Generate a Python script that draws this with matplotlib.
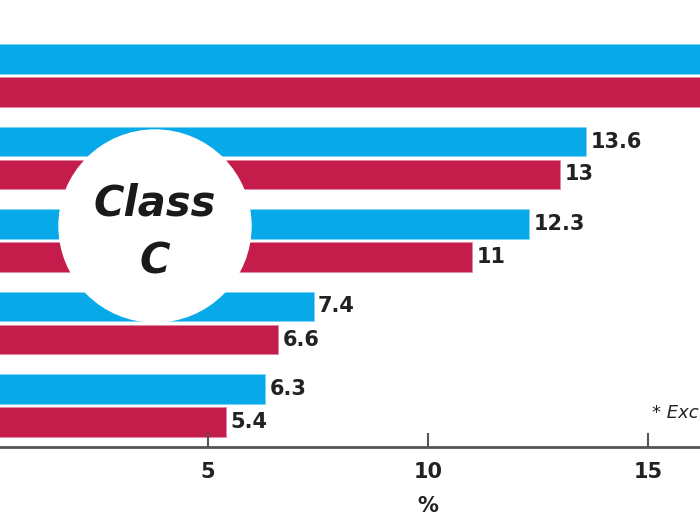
import matplotlib.pyplot as plt
from matplotlib.patches import Ellipse
import numpy as np

# data
blue_vals = [18.9, 13.6, 12.3, 7.4, 6.3]
red_vals = [17.5, 13.0, 11.0, 6.6, 5.4]
blue_labels = ['', '13.6', '12.3', '7.4', '6.3']
red_labels = ['', '13', '11', '6.6', '5.4']
ticks = [5, 10, 15]

BLUE = '#07a9e9'
RED = '#c41d4b'
FONT = 'DejaVu Sans'

fig = plt.figure(figsize=(7, 5.25), dpi=100)
ax = fig.add_axes([0, (525 - 447) / 525, 1, 447 / 525])

y = np.arange(len(blue_vals))
h = 0.36
ax.barh(y - 0.2, blue_vals, height=h, color=BLUE, edgecolor='#7fd3f4', linewidth=0.6)
ax.barh(y + 0.2, red_vals, height=h, color=RED, edgecolor='#e08aa2', linewidth=0.6)

for i in range(len(y)):
    ax.text(blue_vals[i] + 0.1, y[i] - 0.2, blue_labels[i], va='center', ha='left',
            fontsize=15, fontweight='bold', family=FONT, color='#222222')
    ax.text(red_vals[i] + 0.1, y[i] + 0.2, red_labels[i], va='center', ha='left',
            fontsize=15, fontweight='bold', family=FONT, color='#222222')

xmin, xmax = 12 / 44, 712 / 44
ax.set_xlim(xmin, xmax)
ax.set_ylim(4 + 41.5 / 82.5, -75.5 / 82.5)

for s in ['top', 'right', 'left']:
    ax.spines[s].set_visible(False)
ax.spines['bottom'].set_color('#555555')
ax.spines['bottom'].set_linewidth(2)
ax.set_yticks([])
ax.set_xticks(ticks)
ax.set_xticklabels([str(t) for t in ticks], fontsize=15, fontweight='bold', family=FONT, color='#222222')
ax.tick_params(axis='x', direction='in', length=10, width=1.5, color='#555555', pad=11)
ax.set_xlabel('%', fontsize=15, fontweight='bold', family=FONT, color='#222222')
ax.xaxis.set_label_coords((10 - xmin) / (xmax - xmin), -0.11)

# badge
fig.patches.append(Ellipse((155 / 700, 1 - 226 / 525), 192 / 700, 192 / 525,
                           transform=fig.transFigure, facecolor='white', edgecolor='white', zorder=5))
fig.text(155 / 700, 1 - 204 / 525, 'Class', ha='center', va='center', fontsize=30,
         fontweight='bold', style='italic', color='#1a1a1a', zorder=6)
fig.text(155 / 700, 1 - 262 / 525, 'C', ha='center', va='center', fontsize=30,
         fontweight='bold', style='italic', color='#1a1a1a', zorder=6)

fig.text(652 / 700, 1 - 413 / 525, '* Exc', ha='left', va='center', fontsize=13,
         style='italic', family=FONT, color='#222222')

fig.savefig('out.png', dpi=100)
